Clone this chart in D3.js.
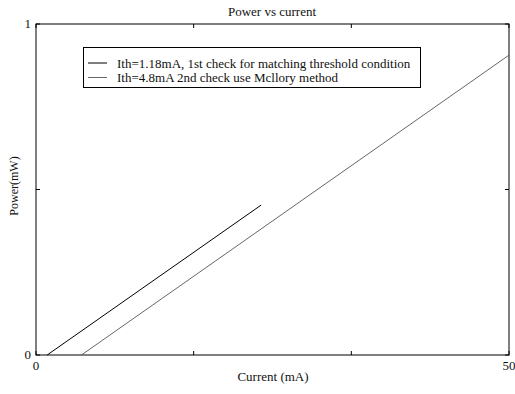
<!DOCTYPE html>
<html>
<head>
<meta charset="utf-8">
<script src="https://cdn.jsdelivr.net/npm/d3@7"></script>
<style>
  html, body { margin: 0; padding: 0; background: #fff; }
  svg { display: block; }
  text { font-family: "Liberation Serif", "Times New Roman", serif; fill: #111; }
</style>
</head>
<body>
<svg id="chart" width="515" height="394"></svg>
<script>
// Series: endpoints of the two fitted P–I lines
const current1 = [1.18, 23.8];
const power1 = [0, 0.453];
const current2 = [4.8, 50];
const power2 = [0, 0.906];

const seriesLabels = [
  "Ith=1.18mA, 1st check for matching threshold condition",
  "Ith=4.8mA 2nd check use Mcllory method"
];
const seriesColors = ["#000", "#666"];

const xTicks = [0, 50 / 3, 100 / 3, 50];
const xTickLabels = ["0", "", "", "50"];
const yTicks = [0, 0.5, 1];
const yTickLabels = ["0", "", "1"];

const margin = { left: 36, top: 24, right: 6, bottom: 39 };
const W = 515, H = 394;
const svg = d3.select("#chart");

const x = d3.scaleLinear().domain([0, 50]).range([margin.left, W - margin.right]);
const y = d3.scaleLinear().domain([0, 1]).range([H - margin.bottom, margin.top]);

// Plot frame
svg.append("rect")
  .attr("x", x(0)).attr("y", y(1))
  .attr("width", x(50) - x(0)).attr("height", y(0) - y(1))
  .attr("fill", "none").attr("stroke", "#000").attr("stroke-width", 1);

// Inward ticks on bottom/top and left/right
const tickLen = 4;
const g = svg.append("g").attr("stroke", "#000").attr("stroke-width", 1);
xTicks.forEach(t => {
  g.append("line").attr("x1", x(t)).attr("x2", x(t)).attr("y1", y(0)).attr("y2", y(0) - tickLen);
  g.append("line").attr("x1", x(t)).attr("x2", x(t)).attr("y1", y(1)).attr("y2", y(1) + tickLen);
});
yTicks.forEach(t => {
  g.append("line").attr("x1", x(0)).attr("x2", x(0) + tickLen).attr("y1", y(t)).attr("y2", y(t));
  g.append("line").attr("x1", x(50)).attr("x2", x(50) - tickLen).attr("y1", y(t)).attr("y2", y(t));
});

// Tick labels
xTicks.forEach((t, i) => {
  if (!xTickLabels[i]) return;
  svg.append("text").attr("x", x(t)).attr("y", y(0) + 15)
    .attr("text-anchor", "middle").attr("font-size", 13).text(xTickLabels[i]);
});
yTicks.forEach((t, i) => {
  if (!yTickLabels[i]) return;
  svg.append("text").attr("x", x(0) - 5).attr("y", y(t) + 4)
    .attr("text-anchor", "end").attr("font-size", 13).text(yTickLabels[i]);
});

// Lines
const line = d3.line().x(d => x(d[0])).y(d => y(d[1]));
const s1 = d3.zip(current1, power1);
const s2 = d3.zip(current2, power2);
svg.append("path").datum(s1).attr("d", line)
  .attr("fill", "none").attr("stroke", seriesColors[0]).attr("stroke-width", 1);
svg.append("path").datum(s2).attr("d", line)
  .attr("fill", "none").attr("stroke", seriesColors[1]).attr("stroke-width", 1);

// Title and axis labels
svg.append("text").attr("x", 272).attr("y", 16)
  .attr("text-anchor", "middle").attr("font-size", 13).text("Power vs current");
svg.append("text").attr("x", 273).attr("y", 381)
  .attr("text-anchor", "middle").attr("font-size", 13).text("Current (mA)");
svg.append("text").attr("transform", "translate(18,186) rotate(-90)")
  .attr("text-anchor", "middle").attr("font-size", 12).text("Power(mW)");

// Legend
const lg = svg.append("g");
lg.append("rect").attr("x", 83.5).attr("y", 47.5).attr("width", 337).attr("height", 40)
  .attr("fill", "#fff").attr("stroke", "#000").attr("stroke-width", 1);
seriesLabels.forEach((lab, i) => {
  const cy = 63 + i * 14.5;
  lg.append("line").attr("x1", 88).attr("x2", 107).attr("y1", cy).attr("y2", cy)
    .attr("stroke", seriesColors[i]).attr("stroke-width", 1);
  lg.append("text").attr("x", 117).attr("y", cy + 4.5).attr("font-size", 13).text(lab);
});
</script>
</body>
</html>
